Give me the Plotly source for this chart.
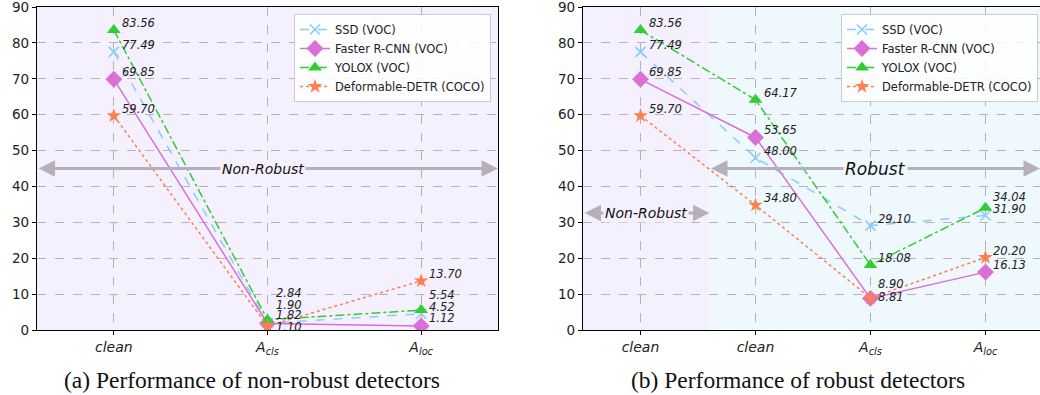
import plotly.graph_objects as go

# ---------------- data ----------------
cats_a = ["clean", "A_cls", "A_loc"]
cats_b = ["clean", "clean", "A_cls", "A_loc"]
tick_a = ["<i>clean</i>", "<i>A<sub>cls</sub></i>", "<i>A<sub>loc</sub></i>"]
tick_b = ["<i>clean</i>", "<i>clean</i>", "<i>A<sub>cls</sub></i>", "<i>A<sub>loc</sub></i>"]

series_names = ["SSD (VOC)", "Faster R-CNN (VOC)", "YOLOX (VOC)", "Deformable-DETR (COCO)"]

ssd_a = [77.49, 1.90, 4.52]
frcnn_a = [69.85, 1.82, 1.12]
yolox_a = [83.56, 2.84, 5.54]
detr_a = [59.70, 1.10, 13.70]

ssd_b = [77.49, 48.00, 29.10, 31.90]
frcnn_b = [69.85, 53.65, 8.81, 16.13]
yolox_b = [83.56, 64.17, 18.08, 34.04]
detr_b = [59.70, 34.80, 8.90, 20.20]

vals_a = [ssd_a, frcnn_a, yolox_a, detr_a]
vals_b = [ssd_b, frcnn_b, yolox_b, detr_b]

# ---------------- styles ----------------
colors = ["#87cefa", "#da70d6", "#32cd32", "#ff7f50"]
dashes = ["dash", "solid", "dashdot", "dot"]
symbols = ["x-thin", "diamond", "triangle-up", "star"]
msizes = [10, 13, 12, 11]
LAV = "#f4f0fd"
BLU = "#eff8fd"
ARROW = "#b5b0bc"

W, H = 1040, 395
def px(x):
    return x / W
def py(y):
    return 1 - y / H

fig = go.Figure()

def add_series(vals, xa, ya, legend, show):
    for i, (name, v) in enumerate(zip(series_names, vals)):
        fig.add_trace(go.Scatter(
            x=list(range(len(v))), y=v, name=name, mode="lines+markers",
            xaxis=xa, yaxis=ya, legend=legend, showlegend=show,
            line=dict(color=colors[i], width=1.5, dash=dashes[i]),
            marker=dict(symbol=symbols[i], size=msizes[i], color=colors[i],
                        line=dict(color=colors[i], width=1.6 if symbols[i] == "x-thin" else 0)),
        ))

add_series(vals_a, "x", "y", "legend", True)
add_series(vals_b, "x2", "y2", "legend2", True)

# value labels: default offset (right, up), overrides where stacked
default_shift = 7
shift_a = {(2, 1): 27, (0, 1): 18, (1, 1): 8, (3, 1): -1, (2, 2): 15, (1, 2): 8}
shift_b = {(3, 2): 14, (1, 2): 1, (2, 3): 11}

ann = []
def add_labels(vals, xr, yr, shifts):
    for si, v in enumerate(vals):
        for ci, val in enumerate(v):
            ann.append(dict(
                x=ci, y=val, xref=xr, yref=yr, text="<i>%.2f</i>" % val,
                showarrow=False, xanchor="left", yanchor="middle",
                xshift=6, yshift=shifts.get((si, ci), default_shift),
                font=dict(family="DejaVu Sans", size=11.5, color="#222222"),
            ))

add_labels(vals_a, "x", "y", shift_a)
add_labels(vals_b, "x2", "y2", shift_b)

# region arrows
def dbl_arrow(x0, x1, y, xr, yr):
    ann.append(dict(x=x1, y=y, ax=x0, ay=y, xref=xr, yref=yr, axref=xr, ayref=yr,
                    text="", showarrow=True, arrowhead=2, arrowside="end+start",
                    arrowsize=1.1, arrowwidth=3, arrowcolor=ARROW))

def region_text(x, y, xr, yr, txt, size, bg):
    ann.append(dict(x=x, y=y, xref=xr, yref=yr, text="<i>%s</i>" % txt, showarrow=False,
                    font=dict(family="DejaVu Sans", size=size, color="#111111"),
                    bgcolor=bg, borderpad=1))

XB_END = 3.474
dbl_arrow(-0.5, 2.5, 45, "x", "y")
region_text(0.97, 45, "x", "y", "Non-Robust", 14, LAV)
dbl_arrow(-0.5, 0.6, 32.6, "x2", "y2")
region_text(0.05, 32.6, "x2", "y2", "Non-Robust", 14, LAV)
dbl_arrow(0.6, XB_END, 45, "x2", "y2")
region_text(2.04, 45, "x2", "y2", "Robust", 17, BLU)

# captions
ann.append(dict(x=px(252), y=py(380), xref="paper", yref="paper", showarrow=False,
                xanchor="center", yanchor="middle",
                text="(a) Performance of non-robust detectors",
                font=dict(family="Liberation Serif", size=23.5, color="#111111")))
ann.append(dict(x=px(798), y=py(380), xref="paper", yref="paper", showarrow=False,
                xanchor="center", yanchor="middle",
                text="(b) Performance of robust detectors",
                font=dict(family="Liberation Serif", size=23.5, color="#111111")))

shapes = [
    dict(type="rect", xref="x", yref="y", x0=-0.5, x1=2.5, y0=0, y1=90,
         fillcolor=LAV, line=dict(width=0), layer="below"),
    dict(type="rect", xref="x2", yref="y2", x0=-0.5, x1=0.6, y0=0, y1=90,
         fillcolor=LAV, line=dict(width=0), layer="below"),
    dict(type="rect", xref="x2", yref="y2", x0=0.6, x1=XB_END, y0=0, y1=90,
         fillcolor=BLU, line=dict(width=0), layer="below"),
]

grid = dict(showgrid=True, gridcolor="#b3b3b3", griddash="dash", gridwidth=1)
axfont = dict(family="DejaVu Sans", size=13.5, color="#222222")
common_x = dict(showline=True, linecolor="black", linewidth=1.3, mirror=True,
                ticks="outside", ticklen=4, tickcolor="black", zeroline=False,
                automargin=False, ticklabeloverflow="allow",
                tickfont=dict(family="DejaVu Sans", size=14, color="#222222"), **grid)
common_y = dict(showline=True, linecolor="black", linewidth=1.3, mirror=True,
                ticks="outside", ticklen=4, tickcolor="black", zeroline=False,
                automargin=False, ticklabeloverflow="allow",
                range=[0, 90], tickvals=list(range(0, 91, 10)), tickfont=axfont, **grid)

ydom = [py(330), py(7)]
legfont = dict(family="DejaVu Sans", size=11.5, color="#222222")
fig.update_layout(
    width=W, height=H, margin=dict(l=0, r=0, t=0, b=0, autoexpand=False),
    paper_bgcolor="white", plot_bgcolor="white",
    xaxis=dict(domain=[px(37), px(498)], range=[-0.5, 2.5], tickvals=[0, 1, 2],
               ticktext=tick_a, anchor="y", **common_x),
    yaxis=dict(domain=ydom, anchor="x", **common_y),
    xaxis2=dict(domain=[px(583), 1.0], range=[-0.5, XB_END], tickvals=[0, 1, 2, 3],
                ticktext=tick_b, anchor="y2", **common_x),
    yaxis2=dict(domain=ydom, anchor="x2", **common_y),
    legend=dict(x=px(491), y=py(14), xanchor="right", yanchor="top",
                bgcolor="rgba(255,255,255,0.85)", bordercolor="#cccccc", borderwidth=1,
                font=legfont, tracegroupgap=0),
    legend2=dict(x=px(1038), y=py(14), xanchor="right", yanchor="top",
                 bgcolor="rgba(255,255,255,0.85)", bordercolor="#cccccc", borderwidth=1,
                 font=legfont, tracegroupgap=0),
    annotations=ann, shapes=shapes,
)

fig.write_html("out.html", config={"displayModeBar": False},
               post_script="document.body.style.margin='0';document.body.style.padding='0';")
